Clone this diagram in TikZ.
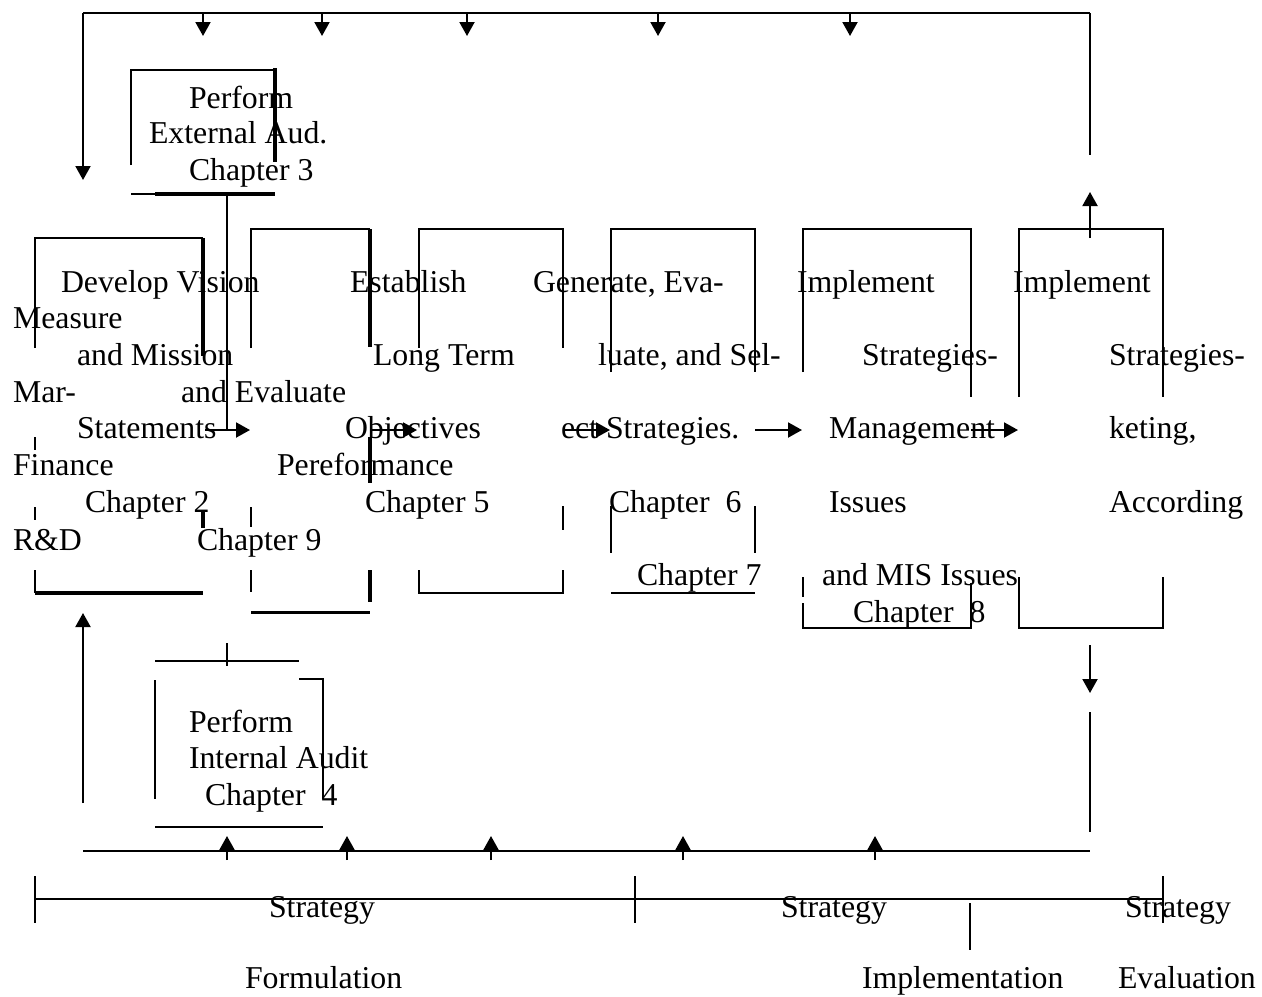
\documentclass[tikz,border=0pt]{standalone}
\usepackage{fontspec}
\setmainfont{Liberation Serif}
\usetikzlibrary{arrows.meta}
\tikzset{
  txt/.style={anchor=base west, inner sep=0pt, font=\fontsize{15.9}{19}\selectfont},
  heavy/.style={line width=2pt}
}
\begin{document}
\begin{tikzpicture}[x=0.5pt, y=-0.5pt, >={Triangle[length=7pt,width=7.5pt]}, line width=1pt]
		\useasboundingbox (0,0) rectangle (1262,996);
		% feedback on top
		\draw (83,13) -- (1090,13);
		\draw[->] (83,13) -- (83,180);
		\foreach \x in {203,322,467,658,850}
		\draw[->] (\x,13) -- (\x,36);
		\draw (1090,13) -- (1090,155);
		% external audit
		\draw (131,165) -- (131,70) -- (275,70);
		\draw[heavy] (275,68) -- (275,162);
		\draw (131,194) -- (155,194);
		\draw[heavy] (155,194) -- (275,194);
		\draw (227,194) -- (227,430);
		\draw[->] (205,430) -- (250,430);
		\node[txt] (ext1) at (188,108) {Perform};
		\node[txt] (ext2) at (148,143) {External Aud.};
		\node[txt] (ext3) at (188,180) {Chapter 3};
		% vision and mission
		\draw (35,348) -- (35,238) -- (203,238);
		\draw[heavy] (203,238) -- (203,356);
		\draw (35,437) -- (35,450);
		\draw (35,507) -- (35,520);
		\draw (35,570) -- (35,593);
		\draw[heavy] (35,593) -- (203,593);
		\draw[heavy] (203,510) -- (203,528);
		\node[txt] (vis1) at (60,292) {Develop Vision};
		\node[txt] (vis2) at (76,365) {and Mission};
		\node[txt] (vis3) at (76,438) {Statements};
		\node[txt] (vis4) at (84,512) {Chapter 2};
		% measure and evaluate
		\node[txt] (mea1) at (12,328) {Measure};
		\node[txt] (mea2) at (12,402) {Mar-};
		\node[txt] (mea3) at (12,475) {Finance};
		\node[txt] (mea4) at (12,550) {R\&D};
		\node[txt] (eva1) at (180,402) {and Evaluate};
		\node[txt] (eva2) at (276,475) {Pereformance};
		\node[txt] (eva3) at (196,550) {Chapter 9};
		% objectives
		\draw (251,348) -- (251,229) -- (370,229);
		\draw[heavy] (370,229) -- (370,347);
		\draw[heavy] (370,437) -- (370,483);
		\draw (251,507) -- (251,527);
		\draw (251,570) -- (251,592);
		\draw[heavy] (370,570) -- (370,602);
		\draw[line width=1.5pt] (251,612) -- (370,612);
		\draw[->] (370,430) -- (417,430);
		\node[txt] (obj1) at (349,292) {Establish};
		\node[txt] (obj2) at (372,365) {Long Term};
		\node[txt] (obj3) at (344,438) {Objectives};
		\node[txt] (obj4) at (364,512) {Chapter 5};
		% strategies
		\draw (419,348) -- (419,229) -- (563,229) -- (563,348);
		\draw (563,506) -- (563,530);
		\draw (419,570) -- (419,593) -- (563,593) -- (563,570);
		\draw (611,372) -- (611,229) -- (755,229) -- (755,372);
		\draw (611,506) -- (611,553);
		\draw (755,506) -- (755,553);
		\draw (611,593) -- (755,593);
		\node[txt] (gen1) at (532,292) {Generate, Eva-};
		\node[txt] (gen2) at (597,365) {luate, and Sel-};
		\node[txt] (gen3) at (560,438) {ect Strategies.};
		\node[txt] (gen4) at (608,512) {Chapter~~6};
		\node[txt] (gen5) at (636,585) {Chapter 7};
		\draw[->] (563,430) -- (610,430);
		\draw[->] (755,430) -- (802,430);
		% implement, management
		\draw (803,372) -- (803,229) -- (971,229) -- (971,397);
		\draw (803,577) -- (803,597);
		\draw (803,603) -- (803,628) -- (971,628) -- (971,583);
		\node[txt] (man1) at (796,292) {Implement};
		\node[txt] (man2) at (861,365) {Strategies-};
		\node[txt] (man3) at (828,438) {Management};
		\node[txt] (man4) at (828,512) {Issues};
		\node[txt] (man5) at (821,585) {and MIS Issues};
		\node[txt] (man6) at (852,622) {Chapter~~8};
		\draw[->] (971,430) -- (1018,430);
		% implement, marketing
		\draw (1019,397) -- (1019,229) -- (1163,229) -- (1163,397);
		\draw (1019,577) -- (1019,628) -- (1163,628) -- (1163,577);
		\node[txt] (mkt1) at (1012,292) {Implement};
		\node[txt] (mkt2) at (1108,365) {Strategies-};
		\node[txt] (mkt3) at (1108,438) {keting,};
		\node[txt] (mkt4) at (1108,512) {According};
		\draw[->] (1090,238) -- (1090,192);
		\draw[->] (1090,645) -- (1090,693);
		\draw (1090,712) -- (1090,832);
		% feedback at bottom
		\draw (83,851) -- (1090,851);
		\draw[->] (83,803) -- (83,613);
		\foreach \x in {227,347,491,683,875}
		\draw[->] (\x,860) -- (\x,836);
		% internal audit
		\draw (155,661) -- (299,661);
		\draw (227,643) -- (227,666);
		\draw (155,680) -- (155,799);
		\draw (299,679) -- (323,679) -- (323,799);
		\draw (155,827) -- (323,827);
		\node[txt] (int1) at (188,732) {Perform};
		\node[txt] (int2) at (188,768) {Internal Audit};
		\node[txt] (int3) at (204,805) {Chapter~~4};
		% stages
		\draw (35,899) -- (1163,899);
		\foreach \x in {35,635,1163}
		\draw (\x,876) -- (\x,923);
		\draw (970,903) -- (970,950);
		\node[txt] (for1) at (268,917) {Strategy};
		\node[txt] (for2) at (244,988) {Formulation};
		\node[txt] (imp1) at (780,917) {Strategy};
		\node[txt] (imp2) at (861,988) {Implementation};
		\node[txt] (evl1) at (1124,917) {Strategy};
		\node[txt] (evl2) at (1117,988) {Evaluation};
\end{tikzpicture}
\end{document}
